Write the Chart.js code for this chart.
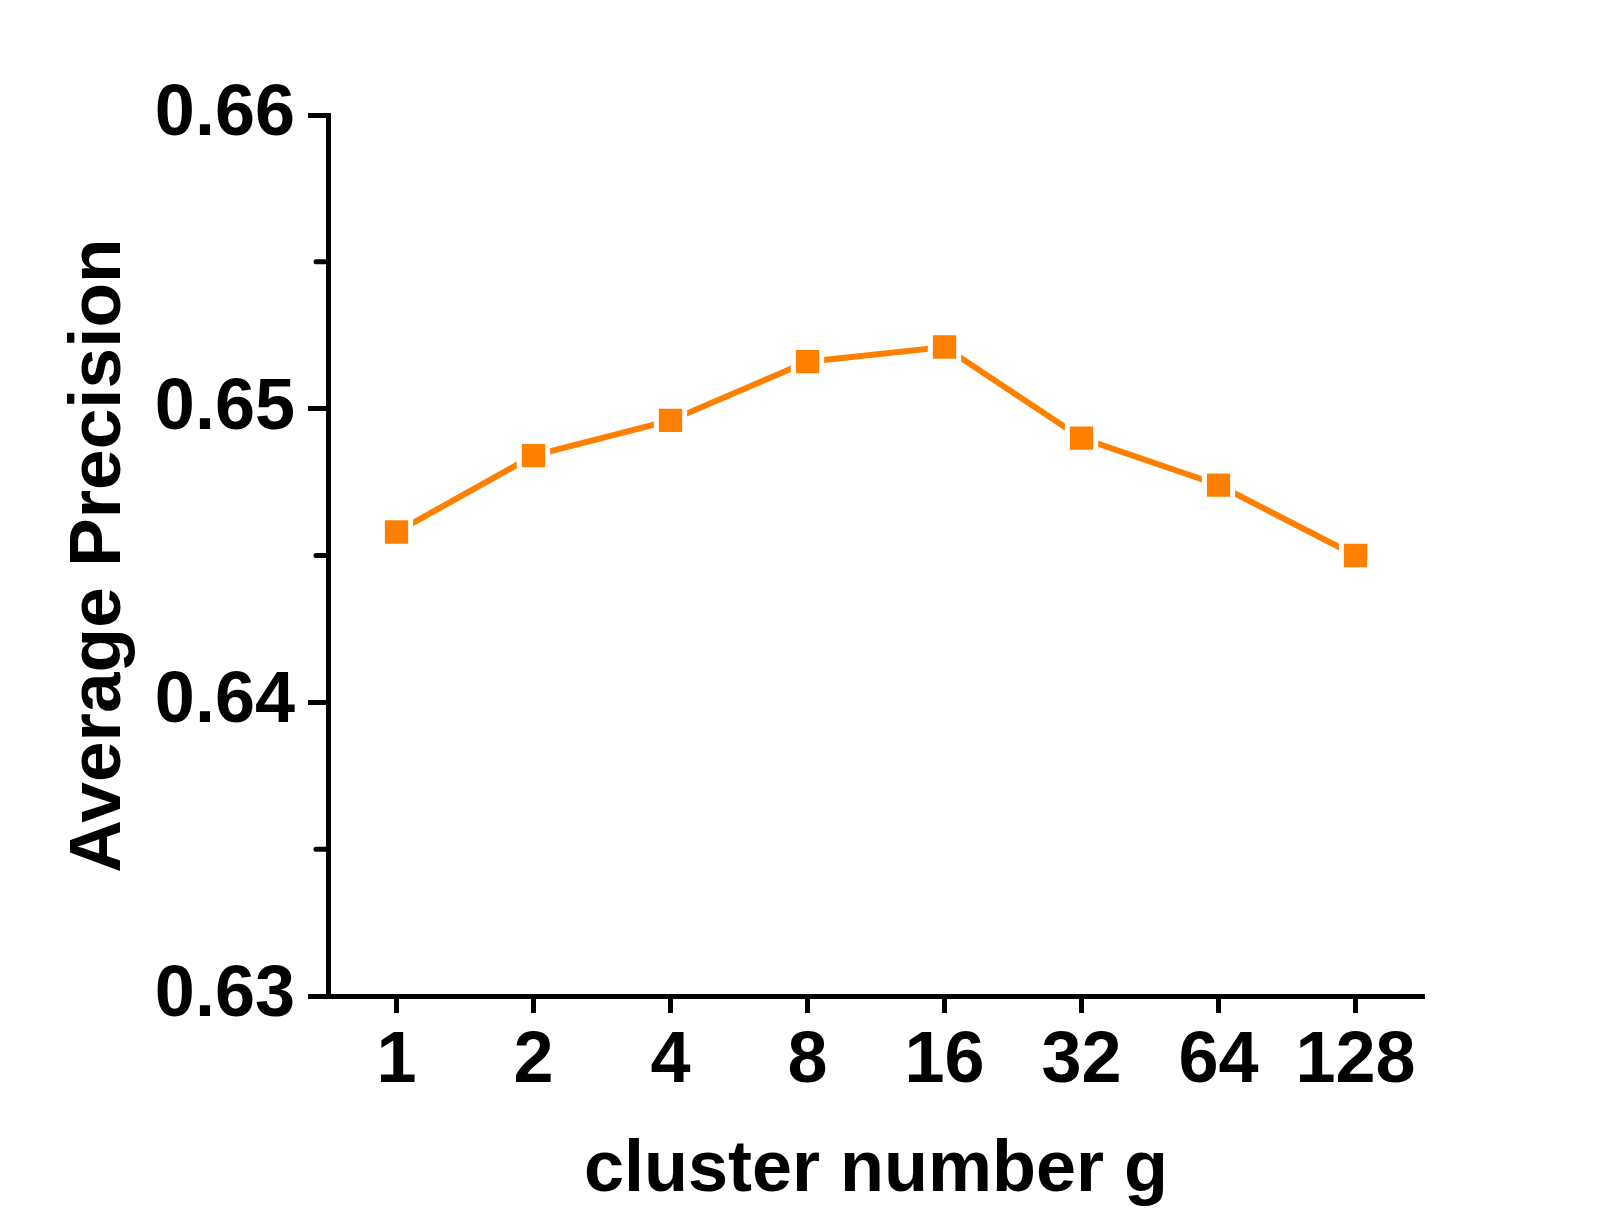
<!DOCTYPE html>
<html lang="en">

<head>
    <meta charset="UTF-8">
    <title>Average Precision vs cluster number</title>
    <script src="https://cdn.jsdelivr.net/npm/chart.js"></script>
    <style>
        body {
            margin: 0;
            background: #fff;
        }
    </style>
</head>

<body>
    <canvas id="myChart" width="1609" height="1232"></canvas>

    <script>
// data
const clusterLabels = ['1', '2', '4', '8', '16', '32', '64', '128'];
const avgPrecision = [0.6458, 0.6484, 0.6496, 0.6516, 0.6521, 0.6490, 0.6474, 0.6450];
const yTicks = [0.63, 0.64, 0.65, 0.66];
const yMinorTicks = [0.635, 0.645, 0.655];

const orange = '#ff8000';
const font = { family: "'Liberation Sans', Arial, sans-serif", weight: 'bold', size: 72 };

// short minor ticks on the y axis, between the labelled ones
const minorTicks = {
    id: 'minorTicks',
    afterDraw(chart) {
        const y = chart.scales.y;
        const ctx = chart.ctx;
        const left = chart.chartArea.left;
        ctx.save();
        ctx.strokeStyle = '#000';
        ctx.lineWidth = 5;
        ctx.lineCap = 'round';
        yMinorTicks.forEach(v => {
            const py = y.getPixelForValue(v);
            ctx.beginPath();
            ctx.moveTo(left - 12, py);
            ctx.lineTo(left, py);
            ctx.stroke();
        });
        ctx.restore();
    }
};

const ctx = document.getElementById('myChart').getContext('2d');
new Chart(ctx, {
    type: 'line',
    data: {
        labels: clusterLabels,
        datasets: [{
            data: avgPrecision,
            borderColor: orange,
            borderWidth: 6,
            borderCapStyle: 'round',
            tension: 0,
            fill: false,
            pointStyle: 'rect',
            pointRadius: 20,
            pointBackgroundColor: orange,
            pointBorderColor: '#fff',
            pointBorderWidth: 5
        }]
    },
    options: {
        responsive: false,
        animation: false,
        layout: {
            padding: { top: 115, right: 185, left: 0, bottom: 0 }
        },
        plugins: {
            legend: { display: false },
            tooltip: { enabled: false }
        },
        scales: {
            x: {
                type: 'category',
                offset: true,
                afterFit: scale => { scale.height = 236; },
                grid: {
                    offset: false,
                    drawOnChartArea: false,
                    drawTicks: true,
                    tickLength: 17,
                    tickWidth: 5,
                    tickColor: '#000'
                },
                border: { display: true, color: '#000', width: 5 },
                ticks: {
                    color: '#000',
                    font: font,
                    padding: 6,
                    maxRotation: 0,
                    autoSkip: false
                },
                title: {
                    display: true,
                    text: 'cluster number g',
                    color: '#000',
                    font: font,
                    padding: { top: 0, bottom: 18 }
                }
            },
            y: {
                min: 0.63,
                max: 0.66,
                afterFit: scale => { scale.width = 328; },
                afterBuildTicks: scale => {
                    scale.ticks = yTicks.map(v => ({ value: v }));
                },
                grid: {
                    drawOnChartArea: false,
                    drawTicks: true,
                    tickLength: 20,
                    tickWidth: 5,
                    tickColor: '#000'
                },
                border: { display: true, color: '#000', width: 5 },
                ticks: {
                    color: '#000',
                    font: font,
                    padding: 13,
                    callback: v => v.toFixed(2)
                },
                title: {
                    display: true,
                    text: 'Average Precision',
                    color: '#000',
                    font: { family: font.family, weight: 'bold', size: 73 },
                    padding: { top: 56, bottom: 0 }
                }
            }
        }
    },
    plugins: [minorTicks]
});
    </script>
</body>

</html>
